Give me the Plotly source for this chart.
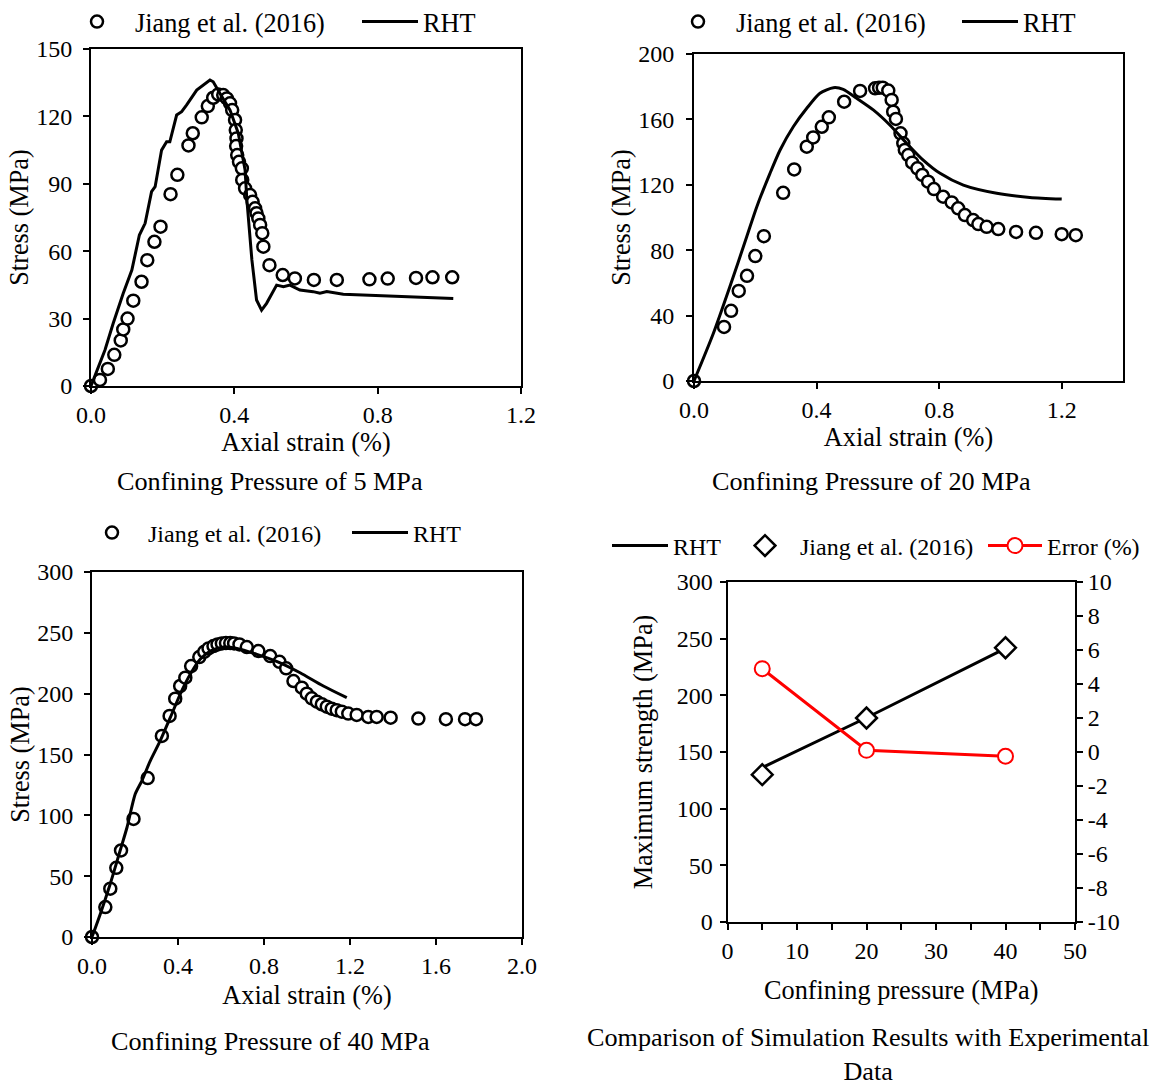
import plotly.graph_objects as go

# ---------------- data ----------------
# Confining pressure 5 MPa
p5_exp_strain = [0.0, 0.025, 0.047, 0.065, 0.083, 0.090, 0.102, 0.118, 0.141, 0.157, 0.177, 0.194,
                 0.222, 0.241, 0.272, 0.284, 0.309, 0.326, 0.341, 0.355, 0.369, 0.379, 0.388, 0.394,
                 0.402, 0.404, 0.406, 0.405, 0.408, 0.413, 0.421, 0.422, 0.430, 0.444, 0.451, 0.458,
                 0.462, 0.467, 0.472, 0.478, 0.481, 0.498, 0.535, 0.569, 0.622, 0.686, 0.777, 0.828,
                 0.907, 0.953, 1.008]
p5_exp_stress = [0, 2.7, 7.6, 13.9, 20.3, 25.2, 30.0, 38.0, 46.4, 56.0, 64.2, 70.9,
                 85.4, 94.0, 107.1, 112.5, 119.6, 124.6, 128.3, 129.8, 129.5, 128.0, 125.8, 122.8,
                 118.4, 113.9, 110.2, 106.8, 102.8, 99.8, 96.9, 91.7, 88.0, 85.0, 82.0, 79.1,
                 76.9, 74.6, 71.7, 68.0, 62.0, 53.8, 49.4, 47.9, 47.2, 47.2, 47.5, 47.8,
                 48.1, 48.4, 48.4]
p5_rht_strain = [0, 0.016, 0.039, 0.062, 0.090, 0.114, 0.135, 0.151, 0.169, 0.179, 0.197, 0.211,
                 0.220, 0.239, 0.253, 0.267, 0.295, 0.332, 0.341, 0.360, 0.388, 0.411, 0.430, 0.435,
                 0.449, 0.462, 0.476, 0.490, 0.518, 0.537, 0.555, 0.583, 0.620, 0.639, 0.658, 0.704,
                 0.797, 0.890, 1.011]
p5_rht_stress = [0, 6.4, 16.0, 27.9, 41.3, 51.6, 67.2, 72.4, 86.5, 88.7, 105.0, 108.7,
                 108.7, 120.6, 122.1, 125.1, 131.7, 136.2, 135.4, 130.2, 122.8, 112.5, 96.1, 82.8,
                 56.1, 38.3, 33.8, 36.8, 44.9, 44.2, 44.9, 42.7, 42.0, 41.3, 42.0, 40.8,
                 40.2, 39.7, 39.0]

# Confining pressure 20 MPa
p20_exp_strain = [0.0, 0.098, 0.121, 0.146, 0.173, 0.200, 0.228, 0.291, 0.327, 0.368, 0.389, 0.417,
                  0.440, 0.490, 0.542, 0.591, 0.604, 0.616, 0.634, 0.645, 0.650, 0.659, 0.674, 0.683,
                  0.688, 0.699, 0.712, 0.729, 0.745, 0.764, 0.783, 0.813, 0.841, 0.862, 0.884, 0.911,
                  0.928, 0.955, 0.993, 1.051, 1.116, 1.200, 1.246]
p20_exp_stress = [0, 33.1, 42.9, 55.1, 64.3, 76.4, 88.6, 115.1, 129.4, 143.3, 149.0, 155.5,
                  161.3, 170.8, 177.4, 179.0, 179.4, 179.4, 177.6, 171.9, 164.7, 160.3, 151.5, 145.4,
                  141.3, 138.2, 133.5, 130.1, 126.0, 121.9, 117.4, 112.7, 109.2, 105.6, 101.5, 98.4,
                  96.0, 94.3, 92.9, 91.2, 90.6, 89.8, 89.2]
p20_rht_strain = [0, 0.063, 0.117, 0.172, 0.205, 0.248, 0.281, 0.324, 0.368, 0.411, 0.455, 0.487,
                  0.531, 0.585, 0.639, 0.694, 0.748, 0.803, 0.879, 0.988, 1.096, 1.200]
p20_rht_stress = [0, 29.0, 57.6, 88.2, 106.6, 127.0, 141.3, 155.5, 166.8, 176.0, 179.4, 178.4,
                  172.9, 165.8, 156.6, 145.4, 135.1, 127.0, 119.8, 114.8, 112.3, 111.3]

# Confining pressure 40 MPa
p40_exp_strain = [0.0, 0.062, 0.085, 0.113, 0.135, 0.193, 0.259, 0.325, 0.361, 0.387, 0.410, 0.434,
                  0.461, 0.499, 0.522, 0.542, 0.565, 0.584, 0.604, 0.623, 0.643, 0.661, 0.686, 0.720,
                  0.774, 0.829, 0.872, 0.903, 0.937, 0.976, 0.999, 1.022, 1.046, 1.069, 1.092, 1.115,
                  1.138, 1.162, 1.192, 1.231, 1.285, 1.324, 1.389, 1.518, 1.646, 1.735, 1.786]
p40_exp_stress = [0, 24.6, 39.7, 56.9, 71.1, 97.0, 130.6, 165.3, 181.7, 195.9, 206.3, 213.1,
                  222.7, 230.1, 234.4, 237.2, 239.1, 240.5, 241.3, 241.6, 241.6, 241.3, 240.5, 238.3,
                  235.0, 230.9, 226.2, 220.8, 210.4, 204.9, 200.0, 196.2, 193.4, 191.3, 189.3, 187.7,
                  186.4, 185.2, 183.6, 182.5, 180.9, 180.9, 180.3, 179.5, 179.0, 179.0, 179.0]
p40_rht_strain = [0, 0.039, 0.085, 0.131, 0.163, 0.201, 0.232, 0.271, 0.317, 0.364, 0.410, 0.457,
                  0.503, 0.550, 0.612, 0.674, 0.767, 0.875, 0.968, 1.076, 1.185]
p40_rht_stress = [0, 19.2, 43.8, 71.1, 90.2, 117.5, 128.4, 144.8, 161.2, 180.3, 199.5, 215.9,
                  228.2, 235.0, 238.3, 237.2, 232.3, 225.4, 217.2, 206.3, 196.7]

# Peak strength comparison
pressure = [5, 20, 40]
rht_peak = [136.3, 180.2, 241.4]
jiang_peak = [130.0, 180.0, 242.0]
error_pct = [4.9, 0.1, -0.25]
error_ticks = [-10, -8, -6, -4, -2, 0, 2, 4, 6, 8, 10]

# ---------------- styling ----------------
FONT = "Liberation Serif, Times New Roman, serif"
W, H = 1153, 1081
TICK_FONT = dict(family=FONT, size=24, color="black")
TITLE_FONT = dict(family=FONT, size=26.3, color="black")


def px_x(p):
    return p / W


def px_y(p):
    return 1 - p / H


exp_marker = dict(symbol="circle", size=12, color="white", line=dict(color="black", width=2.5))
rht_line = dict(color="black", width=3)


def axis_style(**kw):
    base = dict(showline=True, linecolor="black", linewidth=2, mirror=True,
                ticks="outside", ticklen=6, tickwidth=1.5, tickcolor="black",
                showgrid=False, zeroline=False, tickfont=TICK_FONT,
                title_font=TITLE_FONT, automargin=False)
    base.update(kw)
    return base


def legend_box(x_px, y_px, item_w, size):
    return dict(orientation="h", xanchor="left", yanchor="middle", bgcolor="rgba(0,0,0,0)",
                font=dict(family=FONT, size=size, color="black"), itemwidth=item_w,
                x=px_x(x_px), y=px_y(y_px))


fig = go.Figure()

# Panel 1: 5 MPa
fig.add_trace(go.Scatter(x=p5_exp_strain, y=p5_exp_stress, mode="markers", name="Jiang et al. (2016)",
                         marker=exp_marker, xaxis="x", yaxis="y", legend="legend", cliponaxis=False))
fig.add_trace(go.Scatter(x=p5_rht_strain, y=p5_rht_stress, mode="lines", name="RHT",
                         line=rht_line, xaxis="x", yaxis="y", legend="legend2", cliponaxis=False))

# Panel 2: 20 MPa
fig.add_trace(go.Scatter(x=p20_exp_strain, y=p20_exp_stress, mode="markers", name="Jiang et al. (2016)",
                         marker=exp_marker, xaxis="x2", yaxis="y2", legend="legend3", cliponaxis=False))
fig.add_trace(go.Scatter(x=p20_rht_strain, y=p20_rht_stress, mode="lines", name="RHT",
                         line=dict(rht_line, shape="spline", smoothing=0.7),
                         xaxis="x2", yaxis="y2", legend="legend4", cliponaxis=False))

# Panel 3: 40 MPa
fig.add_trace(go.Scatter(x=p40_exp_strain, y=p40_exp_stress, mode="markers", name="Jiang et al. (2016)",
                         marker=exp_marker, xaxis="x3", yaxis="y3", legend="legend5", cliponaxis=False))
fig.add_trace(go.Scatter(x=p40_rht_strain, y=p40_rht_stress, mode="lines", name="RHT",
                         line=dict(rht_line, shape="spline", smoothing=0.7),
                         xaxis="x3", yaxis="y3", legend="legend6", cliponaxis=False))

# Panel 4: peak strength and error
fig.add_trace(go.Scatter(x=pressure, y=rht_peak, mode="lines", name="RHT",
                         line=rht_line, xaxis="x4", yaxis="y4", legend="legend7", cliponaxis=False))
fig.add_trace(go.Scatter(x=pressure, y=jiang_peak, mode="markers", name="Jiang et al. (2016)",
                         marker=dict(symbol="diamond", size=16, color="white",
                                     line=dict(color="black", width=2.5)),
                         xaxis="x4", yaxis="y4", legend="legend8", cliponaxis=False))
fig.add_trace(go.Scatter(x=pressure, y=error_pct, mode="lines+markers", name="Error (%)",
                         line=dict(color="#ff0000", width=3),
                         marker=dict(symbol="circle", size=15, color="white",
                                     line=dict(color="#ff0000", width=2)),
                         xaxis="x4", yaxis="y5", legend="legend9", cliponaxis=False))

fig.update_layout(
    width=W, height=H,
    margin=dict(l=0, r=0, t=0, b=0, autoexpand=False),
    paper_bgcolor="white", plot_bgcolor="white",
    showlegend=True,
    font=dict(family=FONT, color="black"),
    # panel 1
    xaxis=axis_style(domain=[px_x(91), px_x(521)], range=[0, 1.2], dtick=0.4, tickformat=".1f",
                     anchor="y", title=dict(text="Axial strain (%)", standoff=4)),
    yaxis=axis_style(domain=[px_y(386), px_y(49)], range=[0, 150], dtick=30, anchor="x",
                     ticklabelstandoff=6, title=dict(text="Stress (MPa)", standoff=0)),
    # panel 2
    xaxis2=axis_style(domain=[px_x(694), px_x(1123)], range=[0, 1.4], tickvals=[0, 0.4, 0.8, 1.2],
                      tickformat=".1f", anchor="y2", title=dict(text="Axial strain (%)", standoff=4)),
    yaxis2=axis_style(domain=[px_y(381), px_y(54)], range=[0, 200], dtick=40, anchor="x2",
                      ticklabelstandoff=7, title=dict(text="Stress (MPa)", standoff=0)),
    # panel 3
    xaxis3=axis_style(domain=[px_x(92), px_x(522)], range=[0, 2.0], dtick=0.4, tickformat=".1f",
                      anchor="y3", title=dict(text="Axial strain (%)", standoff=8)),
    yaxis3=axis_style(domain=[px_y(937), px_y(572)], range=[0, 300], dtick=50, anchor="x3",
                      ticklabelstandoff=6, title=dict(text="Stress (MPa)", standoff=0)),
    # panel 4
    xaxis4=axis_style(domain=[px_x(727.5), px_x(1075)], range=[0, 50], dtick=10, anchor="y4",
                      minor=dict(dtick=5, ticks="outside", ticklen=6, tickcolor="black", tickwidth=1.5),
                      title=dict(text="Confining pressure (MPa)", standoff=18)),
    yaxis4=axis_style(domain=[px_y(922), px_y(582)], range=[0, 300], dtick=50, anchor="x4",
                      ticklabelstandoff=2, title=dict(text="Maximum strength (MPa)", standoff=16)),
    yaxis5=axis_style(domain=[px_y(922), px_y(582)], range=[-10, 10], anchor="x4",
                      tickvals=error_ticks, ticktext=[str(v) for v in error_ticks],
                      overlaying="y4", side="right", mirror=False),
    legend=legend_box(59, 22, 66, 26.3),
    legend2=legend_box(357, 22, 56, 26.3),
    legend3=legend_box(660, 22, 66, 26.3),
    legend4=legend_box(957, 22, 56, 26.3),
    legend5=legend_box(76, 533, 62, 24),
    legend6=legend_box(347, 533, 56, 24),
    legend7=legend_box(607, 546, 56, 24),
    legend8=legend_box(730, 546, 60, 24),
    legend9=legend_box(983, 546, 54, 24),
)

captions = [
    ("Confining Pressure of 5 MPa", 270, 482),
    ("Confining Pressure of 20 MPa", 871, 481),
    ("Confining Pressure of 40 MPa", 270, 1041),
    ("Comparison of Simulation Results with Experimental<br>Data", 868, 1054),
]
for text, cx, cy in captions:
    fig.add_annotation(text=text, x=px_x(cx), y=px_y(cy), xref="paper", yref="paper",
                       xanchor="center", yanchor="middle", showarrow=False,
                       font=dict(family=FONT, size=26.2, color="black"))

fig.write_html("out.html")
